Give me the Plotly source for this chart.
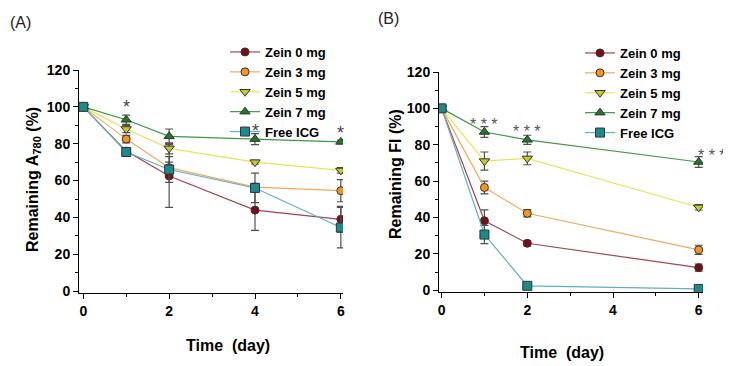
import plotly.graph_objects as go

# ---------------- data ----------------
series_names = ["Zein 0 mg", "Zein 3 mg", "Zein 5 mg", "Zein 7 mg", "Free ICG"]

days_a = [0, 1, 2, 4, 6]
a_zein0 = [100, 76, 62.5, 44, 39]
a_zein3 = [100, 82.5, 67, 56.5, 54.5]
a_zein5 = [100, 88, 77.5, 70, 65.5]
a_zein7 = [100, 93, 84, 82.5, 81]
a_free = [100, 75.5, 66, 56, 34.5]
a_err_zein0 = [0, 1.5, 17, 11, 7]
a_err_zein3 = [0, 2, 3, 2, 6]
a_err_zein5 = [0, 2, 3, 1, 1.5]
a_err_zein7 = [0, 2.5, 4, 3, 1]
a_err_free = [0, 1.5, 7, 8, 11]

days_b = [0, 1, 2, 6]
b_zein0 = [100, 38.2, 25.8, 12.4]
b_zein3 = [100, 56.5, 42.3, 22.2]
b_zein5 = [100, 71, 72.5, 45.6]
b_zein7 = [100, 87, 82.7, 70.5]
b_free = [100, 30.6, 2.4, 0.7]
b_err_zein0 = [0, 6, 1.5, 2]
b_err_zein3 = [0, 3.5, 2, 2.5]
b_err_zein5 = [0, 5, 3.5, 1.5]
b_err_zein7 = [0, 3, 2.5, 3]
b_err_free = [0, 5, 1, 0.5]

sig_a_x = [1, 4, 6]
sig_a_y = [100, 87, 86]
sig_b_x = [1, 2, 5.93]
sig_b_y = [91, 87.5, 74]
sig_b_anchor = ["center", "center", "left"]

x_ticks = [0, 2, 4, 6]
y_ticks = [0, 20, 40, 60, 80, 100, 120]

# ---------------- styles ----------------
marker_colors = ["#7a0e14", "#f7941d", "#c9c824", "#1f7a24", "#1a8a8c"]
line_colors = ["#a5454f", "#f6a85a", "#e8e45a", "#3d9a45", "#5ab2c4"]
symbols = ["circle", "circle", "triangle-down", "triangle-up", "square"]
sizes = [8, 8, 9, 9, 9]

# page body has an 8px margin, so the figure is 8px smaller than the window
W, H = 723, 358


def px(x):
    return (x - 8) / W


def py(y):
    return 1 - (y - 8) / H


fig = go.Figure()

a_vals = [a_zein0, a_zein3, a_zein5, a_zein7, a_free]
a_errs = [a_err_zein0, a_err_zein3, a_err_zein5, a_err_zein7, a_err_free]
b_vals = [b_zein0, b_zein3, b_zein5, b_zein7, b_free]
b_errs = [b_err_zein0, b_err_zein3, b_err_zein5, b_err_zein7, b_err_free]

for i, name in enumerate(series_names):
    fig.add_trace(go.Scatter(
        x=days_a, y=a_vals[i], name=name, mode="lines+markers",
        line=dict(color=line_colors[i], width=1.2),
        marker=dict(color=marker_colors[i], symbol=symbols[i], size=sizes[i],
                    line=dict(color="#333333", width=1)),
        error_y=dict(type="data", array=a_errs[i], color="#505050", thickness=1.2, width=4),
        xaxis="x", yaxis="y", legend="legend"))
for i, name in enumerate(series_names):
    fig.add_trace(go.Scatter(
        x=days_b, y=b_vals[i], name=name, mode="lines+markers",
        line=dict(color=line_colors[i], width=1.2),
        marker=dict(color=marker_colors[i], symbol=symbols[i], size=sizes[i],
                    line=dict(color="#333333", width=1)),
        error_y=dict(type="data", array=b_errs[i], color="#505050", thickness=1.2, width=4),
        xaxis="x2", yaxis="y2", legend="legend2"))

bold_font = dict(family="Liberation Sans, Arial, sans-serif", size=14, color="black", weight="bold")
narrow_font = dict(family="Liberation Sans Narrow, Arial Narrow, Liberation Sans, sans-serif", size=14,
                   color="black", weight="bold")

common_axis = dict(showgrid=False, zeroline=False, showline=True, linecolor="black", linewidth=1,
                   ticks="outside", ticklen=5, tickcolor="black", tickwidth=1, automargin=False)

fig.update_layout(
    width=W, height=H, margin=dict(l=0, r=0, t=0, b=0, autoexpand=False),
    paper_bgcolor="white", plot_bgcolor="white",
    xaxis=dict(domain=[px(79), px(343)], range=[-0.1, 6.05], tickvals=x_ticks, tickfont=bold_font,
               minor=dict(dtick=1, tick0=0, ticks="outside", ticklen=3, tickcolor="black"),
               anchor="y", **common_axis),
    yaxis=dict(domain=[py(293), py(70)], range=[-1, 120], tickvals=y_ticks, tickfont=bold_font,
               minor=dict(dtick=10, tick0=0, ticks="outside", ticklen=3, tickcolor="black"),
               anchor="x", **common_axis),
    xaxis2=dict(domain=[px(439), px(703)], range=[-0.06, 6.1], tickvals=x_ticks, tickfont=narrow_font,
                minor=dict(dtick=1, tick0=0, ticks="outside", ticklen=3, tickcolor="black"),
                anchor="y2", **common_axis),
    yaxis2=dict(domain=[py(292), py(72)], range=[-1, 120], tickvals=y_ticks, tickfont=narrow_font,
                minor=dict(dtick=10, tick0=0, ticks="outside", ticklen=3, tickcolor="black"),
                anchor="x2", **common_axis),
    legend=dict(x=px(225), y=py(37), xanchor="left", yanchor="top", bgcolor="rgba(0,0,0,0)",
                font=dict(family="Liberation Sans, Arial, sans-serif", size=13, color="black", weight="bold"),
                tracegroupgap=0, itemwidth=30),
    legend2=dict(x=px(580), y=py(38), xanchor="left", yanchor="top", bgcolor="rgba(0,0,0,0)",
                 font=dict(family="Liberation Sans Narrow, Arial Narrow, Liberation Sans, sans-serif",
                           size=13, color="black", weight="bold"),
                 tracegroupgap=0, itemwidth=30),
    showlegend=True,
)

annotations = []
# asterisks
for x, y in zip(sig_a_x, sig_a_y):
    annotations.append(dict(x=x, y=y, xref="x", yref="y", text="*", showarrow=False,
                            xanchor="center", yanchor="middle",
                            font=dict(family="Liberation Sans, Arial", size=18, color="#444444")))
for x, y, anc in zip(sig_b_x, sig_b_y, sig_b_anchor):
    annotations.append(dict(x=x, y=y, xref="x2", yref="y2", text="* * *", showarrow=False,
                            xanchor=anc, yanchor="middle",
                            font=dict(family="Liberation Sans, Arial", size=16, color="#555555")))
# axis titles and panel labels
title_font = dict(family="Liberation Sans, Arial", size=16, color="black", weight="bold")
label_font = dict(family="Liberation Sans, Arial", size=16, color="#222222")
annotations += [
    dict(x=px(33), y=py(180), text="Remaining A<sub>780</sub> (%)", textangle=-90, font=title_font,
         xanchor="center", yanchor="middle"),
    dict(x=px(228), y=py(345), text="Time  (day)", font=title_font, xanchor="center", yanchor="middle"),
    dict(x=px(395), y=py(174), text="Remaining FI (%)", textangle=-90, font=title_font,
         xanchor="center", yanchor="middle"),
    dict(x=px(562), y=py(352), text="Time  (day)", font=title_font, xanchor="center", yanchor="middle"),
    dict(x=px(8), y=py(12), text="(A)", font=label_font, xanchor="left", yanchor="top"),
    dict(x=px(376), y=py(8), text="(B)", font=label_font, xanchor="left", yanchor="top"),
]
for a in annotations[-6:]:
    a.update(xref="paper", yref="paper", showarrow=False)
fig.update_layout(annotations=annotations)

fig.write_html("out.html")
